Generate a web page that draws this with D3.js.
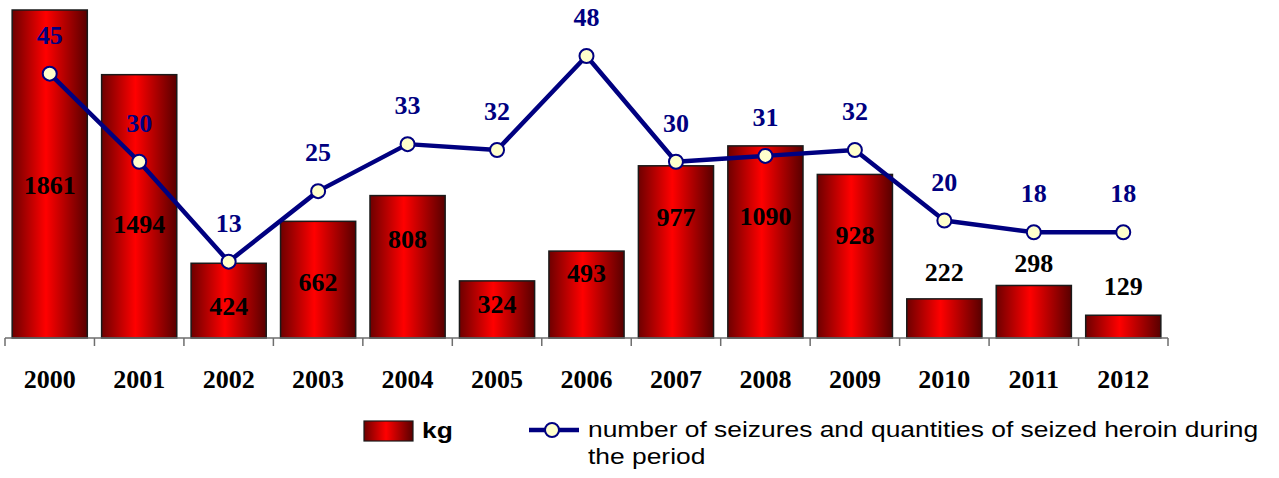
<!DOCTYPE html>
<html>
<head>
<meta charset="utf-8">
<script src="https://cdn.jsdelivr.net/npm/d3@7"></script>
<style>
  html, body { margin: 0; padding: 0; background: #fff; }
  svg { display: block; }
</style>
</head>
<body>
<svg id="chart" width="1279" height="478"></svg>
<script>
// ---- data ----
const years = ["2000","2001","2002","2003","2004","2005","2006","2007","2008","2009","2010","2011","2012"];
const kg = [1861, 1494, 424, 662, 808, 324, 493, 977, 1090, 928, 222, 298, 129];
const seizures = [45, 30, 13, 25, 33, 32, 48, 30, 31, 32, 20, 18, 18];
// where each kg label sits, in kg units
const kgLabelAt = [870, 645, 180, 320, 560, 195, 370, 685, 695, 585, 375, 425, 295];
const legendBar = "kg";
const legendLine = ["number of seizures and quantities of seized heroin during", "the period"];

// ---- chart ----
const svg = d3.select("#chart");
const axisY = 338;

const x = d3.scaleBand().domain(years).range([5, 1168]).padding(0);
const barW = x.bandwidth() * 0.84;
const yKg = d3.scaleLinear().domain([0, 1861]).range([axisY, 10]);
const yN = d3.scaleLinear().domain([0, 48]).range([axisY, axisY - 48 * 5.875]);

const defs = svg.append("defs");
const grad = defs.append("linearGradient").attr("id", "barGrad")
  .attr("x1", "0%").attr("x2", "100%").attr("y1", "0%").attr("y2", "0%");
grad.append("stop").attr("offset", "0%").attr("stop-color", "#6e0000");
grad.append("stop").attr("offset", "45%").attr("stop-color", "#ff0000");
grad.append("stop").attr("offset", "100%").attr("stop-color", "#580000");

const cx = d => x(d) + x.bandwidth() / 2;

// bars
svg.append("g").selectAll("rect").data(years).join("rect")
  .attr("x", (d) => cx(d) - barW / 2)
  .attr("y", (d, i) => yKg(kg[i]))
  .attr("width", barW)
  .attr("height", (d, i) => axisY - yKg(kg[i]))
  .attr("fill", "url(#barGrad)")
  .attr("stroke", "#1a1a1a")
  .attr("stroke-width", 1.5);

// x axis
const gAxis = svg.append("g").attr("transform", `translate(0,${axisY})`);
gAxis.append("line").attr("x1", 5).attr("x2", 1168).attr("y1", 0).attr("y2", 0)
  .attr("stroke", "#6e6e6e").attr("stroke-width", 1.5);
const boundaries = years.map(d => x(d)).concat([x(years[years.length - 1]) + x.bandwidth()]);
gAxis.selectAll("line.tick").data(boundaries).join("line").attr("class", "tick")
  .attr("x1", d => d).attr("x2", d => d).attr("y1", 0).attr("y2", 8)
  .attr("stroke", "#6e6e6e").attr("stroke-width", 1.5);

// year labels
svg.append("g").selectAll("text").data(years).join("text")
  .attr("x", d => cx(d)).attr("y", 388)
  .attr("text-anchor", "middle")
  .attr("font-family", "'Liberation Serif', 'Times New Roman', serif")
  .attr("font-weight", "bold").attr("font-size", 26).attr("fill", "#000")
  .text(d => d);

// kg labels
svg.append("g").selectAll("text").data(years).join("text")
  .attr("x", d => cx(d)).attr("y", (d, i) => yKg(kgLabelAt[i]) + 9)
  .attr("text-anchor", "middle")
  .attr("font-family", "'Liberation Serif', 'Times New Roman', serif")
  .attr("font-weight", "bold").attr("font-size", 26).attr("fill", "#000")
  .text((d, i) => kg[i]);

// line
const line = d3.line().x((d, i) => cx(years[i])).y(d => yN(d));
svg.append("path").datum(seizures).attr("d", line)
  .attr("fill", "none").attr("stroke", "#000080").attr("stroke-width", 4.5)
  .attr("stroke-linejoin", "round");
svg.append("g").selectAll("circle").data(seizures).join("circle")
  .attr("cx", (d, i) => cx(years[i])).attr("cy", d => yN(d)).attr("r", 7)
  .attr("fill", "#ffffcc").attr("stroke", "#000080").attr("stroke-width", 2);

// seizure labels
svg.append("g").selectAll("text").data(seizures).join("text")
  .attr("x", (d, i) => cx(years[i])).attr("y", d => yN(d) - 30)
  .attr("text-anchor", "middle")
  .attr("font-family", "'Liberation Serif', 'Times New Roman', serif")
  .attr("font-weight", "bold").attr("font-size", 26).attr("fill", "#000080")
  .text(d => d);

// legend
const lg = svg.append("g");
lg.append("rect").attr("x", 364).attr("y", 421).attr("width", 49).attr("height", 20)
  .attr("fill", "url(#barGrad)").attr("stroke", "#1a1a1a").attr("stroke-width", 1.2);
lg.append("text")
  .attr("transform", "translate(422,438) scale(1.2,1)")
  .attr("font-family", "'Liberation Sans', Arial, sans-serif")
  .attr("font-weight", "bold").attr("font-size", 22).attr("fill", "#000")
  .text(legendBar);
lg.append("line").attr("x1", 529).attr("x2", 579).attr("y1", 430).attr("y2", 430)
  .attr("stroke", "#000080").attr("stroke-width", 4.5);
lg.append("circle").attr("cx", 552).attr("cy", 430).attr("r", 7)
  .attr("fill", "#ffffcc").attr("stroke", "#000080").attr("stroke-width", 2);
lg.selectAll("text.ll").data(legendLine).join("text").attr("class", "ll")
  .attr("transform", (d, i) => `translate(588,${437 + i * 27}) scale(1.2,1)`)
  .attr("font-family", "'Liberation Sans', Arial, sans-serif")
  .attr("font-size", 22).attr("fill", "#000")
  .text(d => d);
</script>
</body>
</html>
